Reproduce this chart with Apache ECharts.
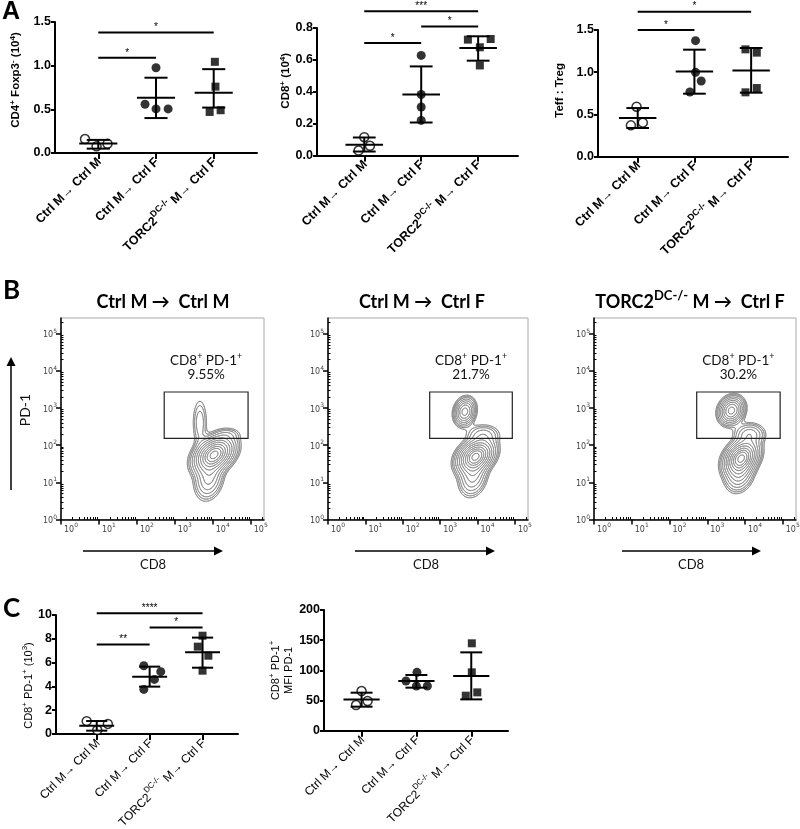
<!DOCTYPE html>
<html>
<head>
<meta charset="utf-8">
<script src="https://cdn.jsdelivr.net/npm/echarts@6.0.0/dist/echarts.min.js"></script>
<style>
html,body{margin:0;padding:0;background:#ffffff;}
#chart{width:800px;height:829px;}
</style>
</head>
<body>
<div id="chart"></div>
<script>
// ================= DATA =================
const categories = ['Ctrl M\u2192 Ctrl M', 'Ctrl M\u2192 Ctrl F', 'TORC2^DC-/- M\u2192 Ctrl F'];

// A, left: CD4+ Foxp3- (10^4)
const cd4Values = [[0.16, 0.076, 0.106], [0.558, 0.505, 0.505, 0.976], [1.044, 0.76, 0.47, 0.49]];
const cd4Jitter = [[-0.23, -0.03, 0.16], [-0.19, 0, 0.21, 0], [0.02, 0.03, -0.07, 0.12]];
const cd4Mean = [0.11, 0.634, 0.69];
const cd4SdLow = [0.05, 0.40, 0.52];
const cd4SdHigh = [0.15, 0.862, 0.96];
const cd4Sig = [[0, 2, 1.38, '*'], [0, 1, 1.09, '*']];
const cd4Ticks = [0, 0.5, 1.0, 1.5];

// A, middle: CD8+ (10^4)
const cd8Values = [[0.115, 0.031, 0.061], [0.628, 0.383, 0.304, 0.22], [0.727, 0.731, 0.679, 0.565]];
const cd8Jitter = [[0, -0.1, 0.1], [0, 0, 0, 0], [-0.18, 0.22, 0.03, 0.03]];
const cd8Mean = [0.067, 0.383, 0.674];
const cd8SdLow = [0.025, 0.207, 0.595];
const cd8SdHigh = [0.113, 0.559, 0.748];
const cd8Sig = [[0, 2, 0.905, '***'], [1, 2, 0.81, '*'], [0, 1, 0.706, '*']];
const cd8Ticks = [0, 0.2, 0.4, 0.6, 0.8];

// A, right: Teff : Treg
const ratioValues = [[0.592, 0.371, 0.403], [1.374, 0.999, 0.896, 0.766], [1.271, 1.232, 0.762, 0.813]];
const ratioJitter = [[-0.02, -0.12, 0.09], [0.02, 0.02, 0.12, -0.08], [-0.1, 0.1, -0.1, 0.1]];
const ratioMean = [0.458, 1.01, 1.022];
const ratioSdLow = [0.34, 0.746, 0.758];
const ratioSdHigh = [0.576, 1.267, 1.287];
const ratioSig = [[0, 2, 1.717, '*'], [0, 1, 1.5, '*']];
const ratioTicks = [0, 0.5, 1.0, 1.5];

// C, left: CD8+ PD-1+ (10^3)
const pdCountValues = [[1.08, 0.33, 0.85], [5.74, 5.24, 4.59, 3.75], [8.26, 7.34, 6.58, 5.32]];
const pdCountJitter = [[-0.19, 0.01, 0.21], [-0.11, 0.21, 0.09, -0.11], [0, -0.09, 0.11, 0]];
const pdCountMean = [0.70, 4.82, 6.86];
const pdCountSdLow = [0.28, 3.98, 5.57];
const pdCountSdHigh = [1.09, 5.66, 8.1];
const pdCountSig = [[0, 2, 10.14, '****'], [1, 2, 8.96, '*'], [0, 1, 7.53, '**']];
const pdCountTicks = [0, 2, 4, 6, 8, 10];

// C, right: CD8+ PD-1+ MFI PD-1
const mfiValues = [[65.7, 42.5, 49.2], [82.3, 96.7, 74, 74], [144.8, 96.7, 58, 63.5]];
const mfiJitter = [[0, -0.1, 0.11], [-0.19, 0.01, 0, 0.2], [0.01, 0.01, -0.1, 0.11]];
const mfiMean = [51.9, 82.3, 90.6];
const mfiSdLow = [39.8, 71.3, 51.9];
const mfiSdHigh = [63, 92.3, 129.8];
const mfiSig = [];
const mfiTicks = [0, 50, 100, 150, 200];

// B: flow cytometry contour plots (log10 units)
const flowTitles = ['Ctrl M \u2192  Ctrl M', 'Ctrl M \u2192  Ctrl F', 'TORC2^DC-/- M \u2192  Ctrl F'];
const gatePercents = ['9.55%', '21.7%', '30.2%'];
const gateCD8 = [2.72, 4.93];
const gatePD1 = [2.18, 3.43];
const decadeTicks = [0, 1, 2, 3, 4, 5];
// populations: [CD8 centre, PD-1 centre, sd CD8, sd PD-1, correlation, weight]
const popCtrlM = [[4.04, 1.75, 0.27, 0.25, 0.35, 1], [3.9, 1.1, 0.2, 0.3, 0.2, 0.25], [3.66, 2.6, 0.12, 0.4, 0, 0.09], [4.4, 2.3, 0.2, 0.1, 0, 0.05]];
const popCtrlF = [[3.95, 1.7, 0.25, 0.23, 0.3, 1], [3.88, 1.15, 0.2, 0.28, 0.2, 0.25], [3.66, 2.9, 0.145, 0.19, 0.15, 0.5], [4.15, 2.3, 0.25, 0.15, 0, 0.12]];
const popTorc = [[3.9, 1.66, 0.23, 0.24, 0.3, 1], [3.85, 1.2, 0.2, 0.25, 0.2, 0.25], [3.64, 2.93, 0.17, 0.19, 0.15, 0.65], [4.12, 2.3, 0.22, 0.16, 0, 0.2]];

// ================= STYLE / LAYOUT =================
const FA = "'Liberation Sans', Arial, sans-serif";
const FL = "Lato, 'Open Sans', sans-serif";
const contourLevels = [0.93, 0.8, 0.68, 0.55, 0.42, 0.31, 0.22, 0.15, 0.1, 0.065, 0.045, 0.031];

function toRich(str) {
  return str.split(/(\^[^\s)]+)/).filter(t => t.length).map(t => t[0] === '^' ? '{s|' + t.slice(1) + '}' : '{n|' + t + '}').join('');
}
function rs(size, weight, family, color, lh) {
  const L = lh || Math.round(size * 1.3);
  return {
    n: {fontSize: size, fontWeight: weight, fontFamily: family, color: color, fill: color, lineHeight: L, verticalAlign: 'bottom'},
    s: {fontSize: Math.round(size * 0.7), fontWeight: weight, fontFamily: family, color: color, fill: color, lineHeight: L, verticalAlign: 'top'}
  };
}

const grids = [], xAxes = [], yAxes = [], series = [];

function renderErr(params, api) {
  const x = api.value(0), m = api.value(1), lo = api.value(2), hi = api.value(3);
  const L = (a, b) => ({type: 'line', shape: {x1: a[0], y1: a[1], x2: b[0], y2: b[1]}, style: {stroke: '#000', lineWidth: 2}});
  return {type: 'group', children: [
    L(api.coord([x - 0.33, m]), api.coord([x + 0.33, m])),
    L(api.coord([x, lo]), api.coord([x, hi])),
    L(api.coord([x - 0.2, lo]), api.coord([x + 0.2, lo])),
    L(api.coord([x - 0.2, hi]), api.coord([x + 0.2, hi]))
  ]};
}
function makeSigRenderer(sig) {
  return function (params, api) {
    const s = sig[params.dataIndex];
    const a = api.coord([s[0], s[2]]), b = api.coord([s[1], s[2]]);
    return {type: 'group', children: [
      {type: 'line', shape: {x1: a[0], y1: a[1], x2: b[0], y2: b[1]}, style: {stroke: '#000', lineWidth: 2}},
      {type: 'text', x: (a[0] + b[0]) / 2, y: a[1] - 5, style: {text: s[3], fill: '#000', fontSize: 10, fontFamily: FA, align: 'center', verticalAlign: 'middle'}}
    ]};
  };
}

function addDotPanel(d, lay) {
  const gi = grids.length, xi = xAxes.length, yi = yAxes.length;
  grids.push({left: lay.left, top: lay.top, width: lay.width, height: lay.height, outerBoundsMode: 'none'});
  xAxes.push({
    gridIndex: gi, type: 'value', min: lay.xmin, max: lay.xmax,
    axisLine: {show: true, onZero: false, lineStyle: {color: '#000', width: 2}},
    axisTick: {show: true, customValues: [0, 1, 2], length: 6, lineStyle: {color: '#000', width: 2}},
    axisLabel: {show: true, customValues: [0, 1, 2], rotate: 45, margin: 6,
      formatter: v => toRich(categories[Math.round(v)]), rich: rs(lay.catSize, lay.catWeight, FA, '#000')},
    splitLine: {show: false}
  });
  yAxes.push({
    gridIndex: gi, type: 'value', min: d.ticks[0], max: d.ticks[d.ticks.length - 1],
    axisLine: {show: true, onZero: false, lineStyle: {color: '#000', width: 2}},
    axisTick: {show: true, customValues: d.ticks, length: 4, lineStyle: {color: '#000', width: 2}},
    axisLabel: {show: true, customValues: d.ticks, margin: 4, fontSize: 12.5, fontWeight: 'bold', fontFamily: FA, color: '#000',
      formatter: v => v.toFixed(d.dec)},
    splitLine: {show: false},
    name: toRich(d.name), nameLocation: 'middle', nameGap: lay.nameGap,
    nameTextStyle: {padding: lay.namePad, rich: rs(lay.nameSize, lay.nameWeight, FA, '#000', 13)}
  });
  const marks = [
    {symbol: 'circle', symbolSize: 9, itemStyle: {color: '#fff', borderColor: '#000', borderWidth: 1.5}},
    {symbol: 'circle', symbolSize: 9, itemStyle: {color: '#000'}},
    {symbol: 'rect', symbolSize: 8, itemStyle: {color: '#000'}}
  ];
  d.values.forEach((vals, g) => {
    series.push(Object.assign({type: 'scatter', xAxisIndex: xi, yAxisIndex: yi, z: 2, silent: true,
      data: vals.map((v, i) => [g + d.jitter[g][i], v])}, marks[g]));
  });
  series.push({type: 'custom', xAxisIndex: xi, yAxisIndex: yi, z: 3, silent: true, renderItem: renderErr,
    encode: {x: 0, y: 1}, data: d.mean.map((m, g) => [g, m, d.lo[g], d.hi[g]])});
  if (d.sig.length) {
    series.push({type: 'custom', xAxisIndex: xi, yAxisIndex: yi, z: 3, silent: true, clip: false,
      renderItem: makeSigRenderer(d.sig), encode: {x: 0, y: 1}, data: d.sig.map(s => [s[0], s[2]])});
  }
}

function contourSegments(comps) {
  const x0 = 2.4, x1 = 5.3, y0 = 0.0, y1 = 4.2, step = 0.025;
  const nx = Math.round((x1 - x0) / step), ny = Math.round((y1 - y0) / step);
  const f = [];
  let mx = 0;
  for (let j = 0; j <= ny; j++) {
    const row = [], y = y0 + j * step;
    for (let i = 0; i <= nx; i++) {
      const x = x0 + i * step;
      let s = 0;
      for (const c of comps) {
        const dx = (x - c[0]) / c[2], dy = (y - c[1]) / c[3], r = c[4];
        s += c[5] * Math.exp(-0.5 / (1 - r * r) * (dx * dx - 2 * r * dx * dy + dy * dy));
      }
      row.push(s);
      if (s > mx) mx = s;
    }
    f.push(row);
  }
  const segs = [];
  for (const lf of contourLevels) {
    const L = lf * mx;
    for (let j = 0; j < ny; j++) for (let i = 0; i < nx; i++) {
      const v00 = f[j][i], v10 = f[j][i + 1], v11 = f[j + 1][i + 1], v01 = f[j + 1][i];
      const xa = x0 + i * step, ya = y0 + j * step, p = [];
      if ((v00 >= L) !== (v10 >= L)) p.push([xa + (L - v00) / (v10 - v00) * step, ya]);
      if ((v10 >= L) !== (v11 >= L)) p.push([xa + step, ya + (L - v10) / (v11 - v10) * step]);
      if ((v01 >= L) !== (v11 >= L)) p.push([xa + (L - v01) / (v11 - v01) * step, ya + step]);
      if ((v00 >= L) !== (v01 >= L)) p.push([xa, ya + (L - v00) / (v01 - v00) * step]);
      if (p.length === 2) segs.push([p[0], p[1]]);
      else if (p.length === 4) { segs.push([p[0], p[1]]); segs.push([p[2], p[3]]); }
    }
  }
  return segs;
}

function addFlowPanel(k, pops, lay) {
  const gi = grids.length, xi = xAxes.length, yi = yAxes.length;
  const xMax = 5.35, yMax = 5.42;
  grids.push({left: lay.left, top: lay.top, width: lay.width, height: lay.height, show: true,
    borderColor: '#a8a8a8', borderWidth: 1, outerBoundsMode: 'none'});
  const minorX = [], minorY = [];
  decadeTicks.forEach(n => { for (let m = 2; m <= 9; m++) { const v = n + Math.log10(m); if (v < xMax) minorX.push(v); if (v < yMax) minorY.push(v); } });
  const labRich = {b: {fontSize: 8, fontFamily: "'DejaVu Sans', sans-serif", color: '#444', lineHeight: 11, verticalAlign: 'bottom'},
                   s: {fontSize: 6, fontFamily: "'DejaVu Sans', sans-serif", color: '#444', lineHeight: 11, verticalAlign: 'top'}};
  const fmt = v => '{b|10}{s|' + Math.round(v) + '}';
  xAxes.push({gridIndex: gi, type: 'value', min: 0, max: xMax, splitLine: {show: false},
    axisLine: {show: true, onZero: false, lineStyle: {color: '#000', width: 1.5}},
    axisTick: {show: true, customValues: decadeTicks, length: 5, lineStyle: {color: '#000', width: 1.5}},
    axisLabel: {show: true, customValues: decadeTicks, formatter: fmt, rich: labRich, align: 'left', padding: [0, 0, 0, 3], margin: 3}});
  xAxes.push({gridIndex: gi, type: 'value', min: 0, max: xMax, splitLine: {show: false},
    axisLine: {show: false}, axisLabel: {show: false},
    axisTick: {show: true, customValues: minorX, length: 2.5, lineStyle: {color: '#000', width: 1}}});
  yAxes.push({gridIndex: gi, type: 'value', min: 0, max: yMax, splitLine: {show: false},
    axisLine: {show: true, onZero: false, lineStyle: {color: '#000', width: 1.5}},
    axisTick: {show: true, customValues: decadeTicks, length: 5, lineStyle: {color: '#000', width: 1.5}},
    axisLabel: {show: true, customValues: decadeTicks, formatter: fmt, rich: labRich, margin: 4}});
  yAxes.push({gridIndex: gi, type: 'value', min: 0, max: yMax, splitLine: {show: false},
    axisLine: {show: false}, axisLabel: {show: false},
    axisTick: {show: true, customValues: minorY, length: 2.5, lineStyle: {color: '#000', width: 1}}});

  const segs = contourSegments(pops);
  series.push({type: 'custom', xAxisIndex: xi, yAxisIndex: yi, silent: true, z: 2, encode: {x: 0, y: 1},
    data: [[gateCD8[0], gatePD1[0]]],
    renderItem: function (params, api) {
      return {type: 'group', children: segs.map(s => {
        const a = api.coord(s[0]), b = api.coord(s[1]);
        return {type: 'line', silent: true, shape: {x1: a[0], y1: a[1], x2: b[0], y2: b[1]}, style: {stroke: '#858585', lineWidth: 0.75, lineCap: 'round'}};
      })};
    }});
  const gr = rs(13.5, 'normal', FL, '#111', 16);
  series.push({type: 'custom', xAxisIndex: xi, yAxisIndex: yi, silent: true, z: 3, clip: false, encode: {x: 0, y: 1},
    data: [[gateCD8[0], gatePD1[0]]],
    renderItem: function (params, api) {
      const p0 = api.coord([gateCD8[0], gatePD1[1]]), p1 = api.coord([gateCD8[1], gatePD1[0]]);
      const cx = (p0[0] + p1[0]) / 2;
      return {type: 'group', children: [
        {type: 'rect', shape: {x: p0[0], y: p0[1], width: p1[0] - p0[0], height: p1[1] - p0[1]}, style: {fill: 'none', stroke: '#222', lineWidth: 1.2}},
        {type: 'text', x: cx, y: p0[1] - 32, style: {text: toRich('CD8^+ PD-1^+'), rich: gr, align: 'center', verticalAlign: 'middle'}},
        {type: 'text', x: cx, y: p0[1] - 17, style: {text: gatePercents[k], fill: '#111', fontSize: 13.5, fontFamily: FL, align: 'center', verticalAlign: 'middle'}}
      ]};
    }});
}

// ---- panels ----
addDotPanel({values: cd4Values, jitter: cd4Jitter, mean: cd4Mean, lo: cd4SdLow, hi: cd4SdHigh, sig: cd4Sig, ticks: cd4Ticks, dec: 1, name: 'CD4^+ Foxp3^- (10^4)'},
  {left: 55, top: 22, width: 202, height: 131, xmin: -0.75, xmax: 2.75, catSize: 12.5, catWeight: 'bold', nameGap: 33, namePad: [0, 0, 0, 15], nameWeight: 'bold', nameSize: 11.5});
addDotPanel({values: cd8Values, jitter: cd8Jitter, mean: cd8Mean, lo: cd8SdLow, hi: cd8SdHigh, sig: cd8Sig, ticks: cd8Ticks, dec: 1, name: 'CD8^+ (10^4)'},
  {left: 317, top: 28, width: 201, height: 127.5, xmin: -0.83, xmax: 2.7, catSize: 12.5, catWeight: 'bold', nameGap: 18, namePad: [0, 0, 0, 22], nameWeight: 'bold', nameSize: 11.5});
addDotPanel({values: ratioValues, jitter: ratioJitter, mean: ratioMean, lo: ratioSdLow, hi: ratioSdHigh, sig: ratioSig, ticks: ratioTicks, dec: 1, name: 'Teff : Treg'},
  {left: 598, top: 30, width: 190, height: 126.7, xmin: -0.7, xmax: 2.65, catSize: 12.5, catWeight: 'bold', nameGap: 32, namePad: [0, 0, 0, 6], nameWeight: 'bold', nameSize: 11.5});
addDotPanel({values: pdCountValues, jitter: pdCountJitter, mean: pdCountMean, lo: pdCountSdLow, hi: pdCountSdHigh, sig: pdCountSig, ticks: pdCountTicks, dec: 0, name: 'CD8^+ PD-1^+ (10^3)'},
  {left: 56, top: 615, width: 182, height: 119, xmin: -0.77, xmax: 2.67, catSize: 12, catWeight: 'normal', nameGap: 18, namePad: [0, 22, 0, 0], nameWeight: 'normal', nameSize: 11});
addDotPanel({values: mfiValues, jitter: mfiJitter, mean: mfiMean, lo: mfiSdLow, hi: mfiSdHigh, sig: mfiSig, ticks: mfiTicks, dec: 0, name: 'CD8^+ PD-1^+\nMFI PD-1'},
  {left: 324, top: 610, width: 184, height: 120.7, xmin: -0.685, xmax: 2.67, catSize: 12, catWeight: 'normal', nameGap: 30, namePad: [0, 0, 0, 0], nameWeight: 'normal', nameSize: 11});

addFlowPanel(0, popCtrlM, {left: 61, top: 318, width: 203, height: 201.5});
addFlowPanel(1, popCtrlF, {left: 328, top: 318, width: 200, height: 201.5});
addFlowPanel(2, popTorc, {left: 594, top: 318, width: 202, height: 201.5});

// ---- decorations: panel letters, titles, axis arrows ----
const titleRich = rs(18, 'bold', FL, '#000', 22);
const graphics = [
  {type: 'text', x: 2, y: 12, style: {text: 'A', font: "bold 25px " + FA, fill: '#000', verticalAlign: 'middle'}},
  {type: 'text', x: 3, y: 291, style: {text: 'B', font: "bold 26px " + FL, fill: '#000', verticalAlign: 'middle'}},
  {type: 'text', x: 3, y: 609, style: {text: 'C', font: "bold 26px " + FL, fill: '#000', verticalAlign: 'middle'}},
  {type: 'text', x: 163, y: 300, style: {text: toRich(flowTitles[0]), rich: titleRich, align: 'center', verticalAlign: 'middle'}},
  {type: 'text', x: 422, y: 300, style: {text: toRich(flowTitles[1]), rich: titleRich, align: 'center', verticalAlign: 'middle'}},
  {type: 'text', x: 690, y: 300, style: {text: toRich(flowTitles[2]), rich: titleRich, align: 'center', verticalAlign: 'middle'}},
  {type: 'line', shape: {x1: 11, y1: 490, x2: 11, y2: 365}, style: {stroke: '#000', lineWidth: 1.5}},
  {type: 'polygon', shape: {points: [[6.5, 366], [15.5, 366], [11, 357]]}, style: {fill: '#000'}},
  {type: 'text', x: 25, y: 410, rotation: Math.PI / 2, style: {text: 'PD-1', font: "14px " + FL, fill: '#111', align: 'center', verticalAlign: 'middle'}}
];
[[83, 214, 153], [355, 486, 426], [622, 752, 691]].forEach(a => {
  graphics.push({type: 'line', shape: {x1: a[0], y1: 551, x2: a[1], y2: 551}, style: {stroke: '#000', lineWidth: 1.5}});
  graphics.push({type: 'polygon', shape: {points: [[a[1], 546.5], [a[1], 555.5], [a[1] + 9, 551]]}, style: {fill: '#000'}});
  graphics.push({type: 'text', x: a[2], y: 565, style: {text: 'CD8', font: "13px " + FL, fill: '#111', align: 'center', verticalAlign: 'middle'}});
});

const chart = echarts.init(document.getElementById('chart'), null, {renderer: 'canvas'});
chart.setOption({
  animation: false,
  backgroundColor: '#ffffff',
  grid: grids,
  xAxis: xAxes,
  yAxis: yAxes,
  series: series,
  graphic: {elements: graphics}
});
</script>
</body>
</html>
